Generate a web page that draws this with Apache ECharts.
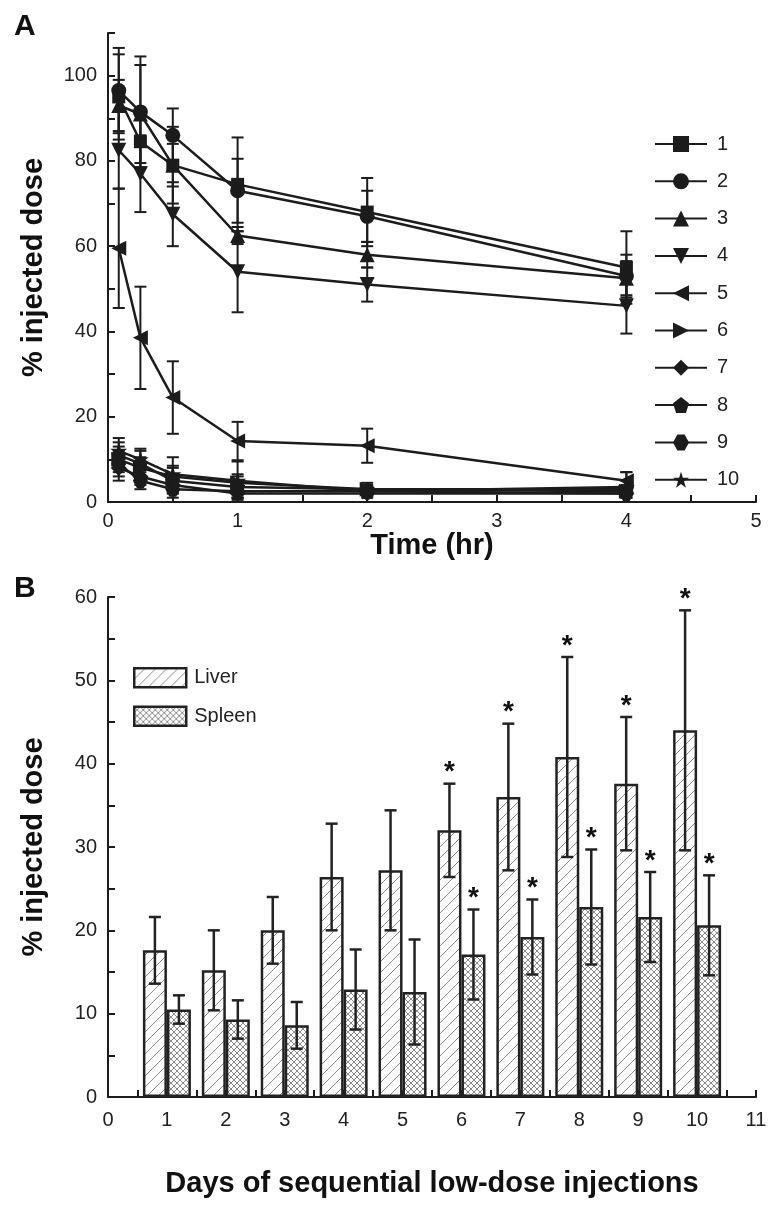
<!DOCTYPE html>
<html>
<head>
<meta charset="utf-8">
<script src="https://cdn.jsdelivr.net/npm/echarts@6/dist/echarts.min.js"></script>
<style>html,body{margin:0;padding:0;background:#fff}#c{width:776px;height:1220px}</style>
</head>
<body>
<div id="c"></div>
<script>
// ---------- Panel A data ----------
const times = [0.083, 0.25, 0.5, 1, 2, 4];
const xTicksA = [0, 1, 2, 3, 4, 5];
const groupNames = ['1','2','3','4','5','6','7','8','9','10'];
const mean1 = [95, 84.5, 79, 74.5, 68, 55];
const err1  = [10, 6, 9, 11, 8, 8.5];
const mean2 = [96.5, 91.5, 86, 73, 67, 53];
const err2  = [10, 13, 6.3, 7.5, 6, 5];
const mean3 = [93, 91, 79, 62.5, 58, 52.5];
const err3  = [6, 11.5, 5, 2, 3, 4];
const mean4 = [82.5, 77, 67.5, 54, 51, 46];
const err4  = [9, 9, 7.5, 9.5, 4, 6.5];
const mean5 = [59.5, 38.5, 24.5, 14.3, 13.2, 5];
const err5  = [14, 12, 8.5, 4.5, 4, 2];
const mean6 = [10, 8, 6, 4.5, 3, 2.5];
const err6  = [3, 2.5, 2.5, 2, 1, 1];
const mean7 = [8, 6, 4, 2, 2, 2];
const err7  = [3, 2, 2, 1, 1, 1];
const mean8 = [11, 9, 5, 3.5, 3, 3];
const err8  = [3, 3, 3, 2.5, 1.5, 1];
const mean9 = [9, 5, 3, 2.5, 2.5, 2];
const err9  = [3, 2, 2, 1.5, 1, 1];
const mean10 = [12, 10, 6.5, 5, 2.5, 3.5];
const err10  = [3, 2.5, 4, 4.5, 1, 3.5];

// ---------- Panel B data ----------
const days = [1, 2, 3, 4, 5, 6, 7, 8, 9, 10];
const liver     = [17.6, 15.2, 20.0, 26.4, 27.2, 32.0, 36.0, 40.8, 37.6, 44.0];
const liverErr  = [4.0, 4.8, 4.0, 6.4, 7.2, 5.6, 8.8, 12.0, 8.0, 14.4];
const liverSig  = [0, 0, 0, 0, 0, 1, 1, 1, 1, 1];
const spleen    = [10.5, 9.3, 8.6, 12.9, 12.6, 17.1, 19.2, 22.8, 21.6, 20.6];
const spleenErr = [1.7, 2.3, 2.8, 4.8, 6.3, 5.4, 4.5, 6.9, 5.4, 6.0];
const spleenSig = [0, 0, 0, 0, 0, 1, 1, 1, 1, 1];

const means = [mean1, mean2, mean3, mean4, mean5, mean6, mean7, mean8, mean9, mean10];
const errs  = [err1, err2, err3, err4, err5, err6, err7, err8, err9, err10];

const INK = '#1c1c1c';
const FONT = 'Liberation Sans';

const symbols = [
  'rect',
  'circle',
  'triangle',
  'path://M0,0L2,0L1,1.8Z',
  'path://M1.8,0L1.8,2L0,1Z',
  'path://M0,0L1.8,1L0,2Z',
  'diamond',
  'path://M1,0L2,0.76L1.62,2L0.38,2L0,0.76Z',
  'path://M0.55,0L1.45,0L2,1L1.45,2L0.55,2L0,1Z',
  'path://M1,0L1.223,0.693L1.951,0.691L1.361,1.117L1.588,1.809L1,1.38L0.412,1.809L0.639,1.117L0.049,0.691L0.777,0.693Z'
];
const symbolSizes = [13, 15, 15, 15, 15, 15, 16, 15, 15, 17];

function makePattern(period, both, color) {
  const c = document.createElement('canvas');
  c.width = period; c.height = period;
  const g = c.getContext('2d');
  g.fillStyle = '#ffffff';
  g.fillRect(0, 0, period, period);
  g.strokeStyle = color;
  g.lineWidth = 1;
  const p = period;
  g.beginPath();
  g.moveTo(0, p); g.lineTo(p, 0);
  g.moveTo(-1, 1); g.lineTo(1, -1);
  g.moveTo(p - 1, p + 1); g.lineTo(p + 1, p - 1);
  if (both) {
    g.moveTo(0, 0); g.lineTo(p, p);
    g.moveTo(p - 1, -1); g.lineTo(p + 1, 1);
    g.moveTo(-1, p - 1); g.lineTo(1, p + 1);
  }
  g.stroke();
  return c;
}
const liverPattern = { image: makePattern(11, false, '#8a8a8a'), repeat: 'repeat' };
const spleenPattern = { image: makePattern(6, true, '#8a8a8a'), repeat: 'repeat' };

const axisCommon = {
  axisLine: { show: true, onZero: false, lineStyle: { color: INK, width: 2 } },
  axisTick: { show: true, inside: true, length: 7, lineStyle: { color: INK, width: 2 } },
  minorTick: { show: true, splitNumber: 2, length: 7, lineStyle: { color: INK, width: 2 } },
  splitLine: { show: false },
  axisLabel: { color: '#222', fontSize: 20, fontFamily: FONT },
  nameTextStyle: { color: '#111', fontSize: 29, fontWeight: 'bold', fontFamily: FONT },
  nameLocation: 'middle'
};

const series = [];
for (let k = 0; k < 10; k++) {
  series.push({
    name: groupNames[k],
    type: 'line',
    xAxisIndex: 0, yAxisIndex: 0,
    data: times.map((t, i) => [t, means[k][i]]),
    symbol: symbols[k],
    symbolSize: symbolSizes[k],
    showAllSymbol: true,
    lineStyle: { color: INK, width: 2.5 },
    itemStyle: { color: INK },
    z: 3,
    animation: false
  });
}
const errDataA = [];
for (let k = 0; k < 10; k++) {
  for (let i = 0; i < times.length; i++) {
    errDataA.push([times[i], means[k][i] - errs[k][i], means[k][i] + errs[k][i]]);
  }
}
series.push({
  type: 'custom',
  xAxisIndex: 0, yAxisIndex: 0,
  data: errDataA,
  encode: { x: 0, y: [1, 2] },
  z: 4,
  silent: true,
  animation: false,
  renderItem: function (params, api) {
    const lo = api.coord([api.value(0), api.value(1)]);
    const hi = api.coord([api.value(0), api.value(2)]);
    const w = 6;
    const st = { stroke: INK, lineWidth: 2 };
    return {
      type: 'group',
      children: [
        { type: 'line', shape: { x1: lo[0], y1: lo[1], x2: hi[0], y2: hi[1] }, style: st },
        { type: 'line', shape: { x1: hi[0] - w, y1: hi[1], x2: hi[0] + w, y2: hi[1] }, style: st },
        { type: 'line', shape: { x1: lo[0] - w, y1: lo[1], x2: lo[0] + w, y2: lo[1] }, style: st }
      ]
    };
  }
});

series.push({
  name: 'Liver', type: 'bar', xAxisIndex: 1, yAxisIndex: 1,
  data: days.map((d, i) => [d, liver[i]]),
  barWidth: 24, barGap: '0%',
  itemStyle: { color: liverPattern, borderColor: '#222', borderWidth: 2.5 },
  animation: false, z: 2
});
series.push({
  name: 'Spleen', type: 'bar', xAxisIndex: 1, yAxisIndex: 1,
  data: days.map((d, i) => [d, spleen[i]]),
  barWidth: 24, barGap: '0%',
  itemStyle: { color: spleenPattern, borderColor: '#222', borderWidth: 2.5 },
  animation: false, z: 2
});
function errSeriesB(vals, errsArr, sig, offset) {
  return {
    type: 'custom', xAxisIndex: 1, yAxisIndex: 1,
    data: days.map((d, i) => [d, vals[i], errsArr[i], sig[i]]),
    encode: { x: 0, y: 1 },
    z: 5, silent: true, animation: false,
    renderItem: function (params, api) {
      const x = api.value(0), m = api.value(1), e = api.value(2), s = api.value(3);
      const hi = api.coord([x, m + e]);
      const lo = api.coord([x, m - e]);
      const cx = hi[0] + offset;
      const w = 6;
      const st = { stroke: '#222', lineWidth: 2.5 };
      const ch = [
        { type: 'line', shape: { x1: cx, y1: lo[1], x2: cx, y2: hi[1] }, style: st },
        { type: 'line', shape: { x1: cx - w, y1: hi[1], x2: cx + w, y2: hi[1] }, style: st },
        { type: 'line', shape: { x1: cx - w, y1: lo[1], x2: cx + w, y2: lo[1] }, style: st }
      ];
      if (s) {
        ch.push({ type: 'text', style: { text: '*', x: cx, y: hi[1] - 25, align: 'center', verticalAlign: 'top',
          font: 'bold 28px "Liberation Sans"', fill: '#111' } });
      }
      return { type: 'group', children: ch };
    }
  };
}
series.push(errSeriesB(liver, liverErr, liverSig, -12));
series.push(errSeriesB(spleen, spleenErr, spleenSig, 12));

const option = {
  backgroundColor: '#fff',
  animation: false,
  grid: [
    { left: 108, top: 33, width: 648, height: 469, containLabel: false },
    { left: 108, top: 597, width: 648, height: 500, containLabel: false }
  ],
  xAxis: [
    Object.assign({}, axisCommon, {
      type: 'value', gridIndex: 0, min: 0, max: 5, interval: 1,
      name: 'Time (hr)', nameGap: 25,
      axisLabel: Object.assign({}, axisCommon.axisLabel, { margin: 9 })
    }),
    Object.assign({}, axisCommon, {
      type: 'value', gridIndex: 1, min: 0, max: 11, interval: 1,
      name: 'Days of sequential low-dose injections', nameGap: 72,
      axisLabel: Object.assign({}, axisCommon.axisLabel, { margin: 13 })
    })
  ],
  yAxis: [
    Object.assign({}, axisCommon, {
      type: 'value', gridIndex: 0, min: 0, max: 110, interval: 20,
      name: '% injected dose', nameGap: 60, nameRotate: 90,
      axisLabel: Object.assign({}, axisCommon.axisLabel, { margin: 11, showMaxLabel: false,
        formatter: function (v) { return v > 100 ? '' : String(v); } })
    }),
    Object.assign({}, axisCommon, {
      type: 'value', gridIndex: 1, min: 0, max: 60, interval: 10,
      name: '% injected dose', nameGap: 60, nameRotate: 90,
      axisLabel: Object.assign({}, axisCommon.axisLabel, { margin: 11 })
    })
  ],
  legend: [
    {
      data: groupNames, orient: 'vertical', left: 649, top: 129, padding: 5,
      itemWidth: 52, itemHeight: 20, itemGap: 17.3,
      textStyle: { color: '#222', fontSize: 20, fontFamily: FONT, lineHeight: 20, padding: [0, 0, 0, 5] },
      selectedMode: false
    },
    {
      data: ['Liver', 'Spleen'], orient: 'vertical', left: 128, top: 662, padding: 5,
      icon: 'rect',
      itemWidth: 52, itemHeight: 19, itemGap: 17,
      itemStyle: { borderColor: '#222', borderWidth: 2.5 },
      textStyle: { color: '#222', fontSize: 20, fontFamily: FONT, lineHeight: 20, padding: [0, 0, 0, 3] },
      selectedMode: false
    }
  ],
  graphic: [
    { type: 'text', left: 14, top: 12, style: { text: 'A', font: 'bold 30px "Liberation Sans"', fill: '#111' } },
    { type: 'text', left: 14, top: 574, style: { text: 'B', font: 'bold 30px "Liberation Sans"', fill: '#111' } }
  ],
  series: series
};

const chart = echarts.init(document.getElementById('c'), null, { renderer: 'canvas' });
chart.setOption(option);
</script>
</body>
</html>
